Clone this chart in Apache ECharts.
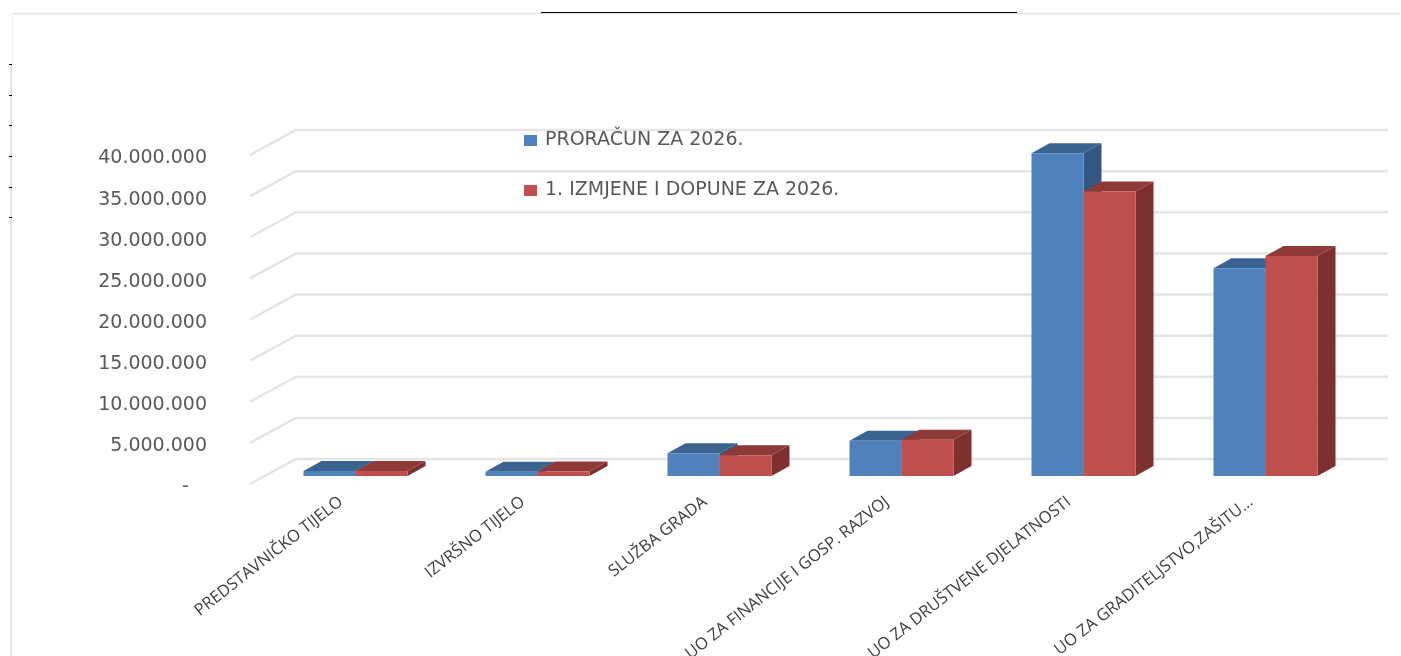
<!DOCTYPE html>
<html>
<head>
<meta charset="utf-8">
<title>Proračun 2026</title>
<style>
html,body{margin:0;padding:0;background:#fff;}
#main{width:1401px;height:656px;}
</style>
<script src="https://cdn.jsdelivr.net/npm/echarts@6/dist/echarts.min.js"></script>
</head>
<body>
<div id="main"></div>
<script>
//podaci
var categories = ["PREDSTAVNIČKO TIJELO","IZVRŠNO TIJELO","SLUŽBA GRADA","UO ZA FINANCIJE I GOSP. RAZVOJ","UO ZA DRUŠTVENE DJELATNOSTI","UO ZA GRADITELJSTVO,ZAŠITU..."];
var proracun = [600000,520000,2760000,4300000,39250000,25270000];
var izmjene = [620000,540000,2520000,4420000,34600000,26760000];
var yTicks = [0,5000000,10000000,15000000,20000000,25000000,30000000,35000000,40000000];
var yTickLabels = ["-   ","5.000.000","10.000.000","15.000.000","20.000.000","25.000.000","30.000.000","35.000.000","40.000.000"];
var leftMarks = [64,95,125,156,187,217];

//pomak stupca u dubinu
var wallDx = 46, wallDy = 25;
var barShiftX = 14.5, barShiftY = 8;
var depthX = 18, depthY = 10;

// stupac: prednja, gornja i bočna ploha
function barItem(side, front, top, right){
	return function(params, api){
		var p = api.coord([api.value(0), api.value(1)]);
		var base = api.coord([api.value(0), 0]);
		var w = api.size([1,0])[0]*52/182;
		var x0 = p[0]+barShiftX+(side<0?-w:0);
		var x1 = x0+w;
		var y0 = base[1]-barShiftY;
		var y1 = p[1]-barShiftY;
		return {
			type:'group',
			children:[
				{type:'polygon',shape:{points:[[x1,y0],[x1+depthX,y0-depthY],[x1+depthX,y1-depthY],[x1,y1]]},style:{fill:right}},
				{type:'polygon',shape:{points:[[x0,y1],[x0+depthX,y1-depthY],[x1+depthX,y1-depthY],[x1,y1]]},style:{fill:top}},
				{type:'rect',shape:{x:x0,y:y1,width:w,height:y0-y1},style:{fill:front}}
			]
		};
	};
}

// mreža na stražnjem zidu s kosim crtama
function wallItem(params, api){
	var p = api.coord([0, api.value(0)]);
	var band = api.size([1,0])[0];
	var left = p[0]-band/2;
	return {
		type:'polyline',
		shape:{points:[[left,p[1]],[left+wallDx,p[1]-wallDy],[left+wallDx+band*categories.length,p[1]-wallDy]]},
		style:{fill:null,stroke:'#E4E4E4',lineWidth:2.5}
	};
}

var frame = [
	{type:'line',shape:{x1:12,y1:13.5,x2:1400,y2:13.5},style:{stroke:'#E2E2E2',lineWidth:1.5}},
	{type:'line',shape:{x1:12.5,y1:13,x2:12.5,y2:64},style:{stroke:'#EEEEEE',lineWidth:1}},
	{type:'line',shape:{x1:11,y1:64,x2:11,y2:656},style:{stroke:'#E4E4E4',lineWidth:2}},
	{type:'line',shape:{x1:541,y1:12.5,x2:1017,y2:12.5},style:{stroke:'#000',lineWidth:1}}
];
for(var i=0;i<leftMarks.length;i++){
	frame.push({type:'line',shape:{x1:9,y1:leftMarks[i]+0.5,x2:12,y2:leftMarks[i]+0.5},style:{stroke:'#000',lineWidth:1}});
}

var myChart = echarts.init(document.getElementById('main'));
var option = {
	animation:false,
	backgroundColor:'#fff',
	graphic:frame,
	grid:{left:250,right:59,top:155,bottom:172,containLabel:false,outerBoundsMode:'none'},
	legend:{
		orient:'vertical',
		left:519,
		top:126,
		itemWidth:13,
		itemHeight:11,
		itemGap:31,
		icon:'rect',
		data:['PRORAČUN ZA 2026.','1. IZMJENE I DOPUNE ZA 2026.'],
		textStyle:{fontFamily:'DejaVu Sans',fontSize:19,color:'#595959',padding:[0,0,0,3]}
	},
	xAxis:{
		type:'category',
		data:categories,
		axisLine:{show:false},
		axisTick:{show:false},
		axisLabel:{
			interval:0,
			rotate:38,
			margin:16,
			hideOverlap:false,
			fontFamily:'Open Sans',
			fontSize:16.5,
			color:'#404040'
		}
	},
	yAxis:{
		type:'value',
		min:0,
		max:40000000,
		interval:5000000,
		splitLine:{show:false},
		axisLine:{show:false},
		axisTick:{show:false},
		axisLabel:{
			margin:43,
			fontFamily:'DejaVu Sans',
			fontSize:19,
			color:'#595959',
			verticalAlign:'top',
			lineHeight:7,
			formatter:function(value,index){
				return yTickLabels[index];
			}
		}
	},
	series:[
		{
			type:'custom',
			name:'wall',
			silent:true,
			renderItem:wallItem,
			encode:{y:0},
			data:yTicks.map(function(v){return [v];}),
			z:1
		},
		{
			type:'custom',
			name:'PRORAČUN ZA 2026.',
			renderItem:barItem(-1,'#4F81BD','#3B6391','#335780'),
			itemStyle:{color:'#4F81BD'},
			encode:{x:0,y:1},
			data:proracun.map(function(v,i){return [i,v];}),
			z:2
		},
		{
			type:'custom',
			name:'1. IZMJENE I DOPUNE ZA 2026.',
			renderItem:barItem(1,'#C0504D','#8F3A38','#7D302E'),
			itemStyle:{color:'#C0504D'},
			encode:{x:0,y:1},
			data:izmjene.map(function(v,i){return [i,v];}),
			z:3
		}
	]
};
myChart.setOption(option);
</script>
</body>
</html>
